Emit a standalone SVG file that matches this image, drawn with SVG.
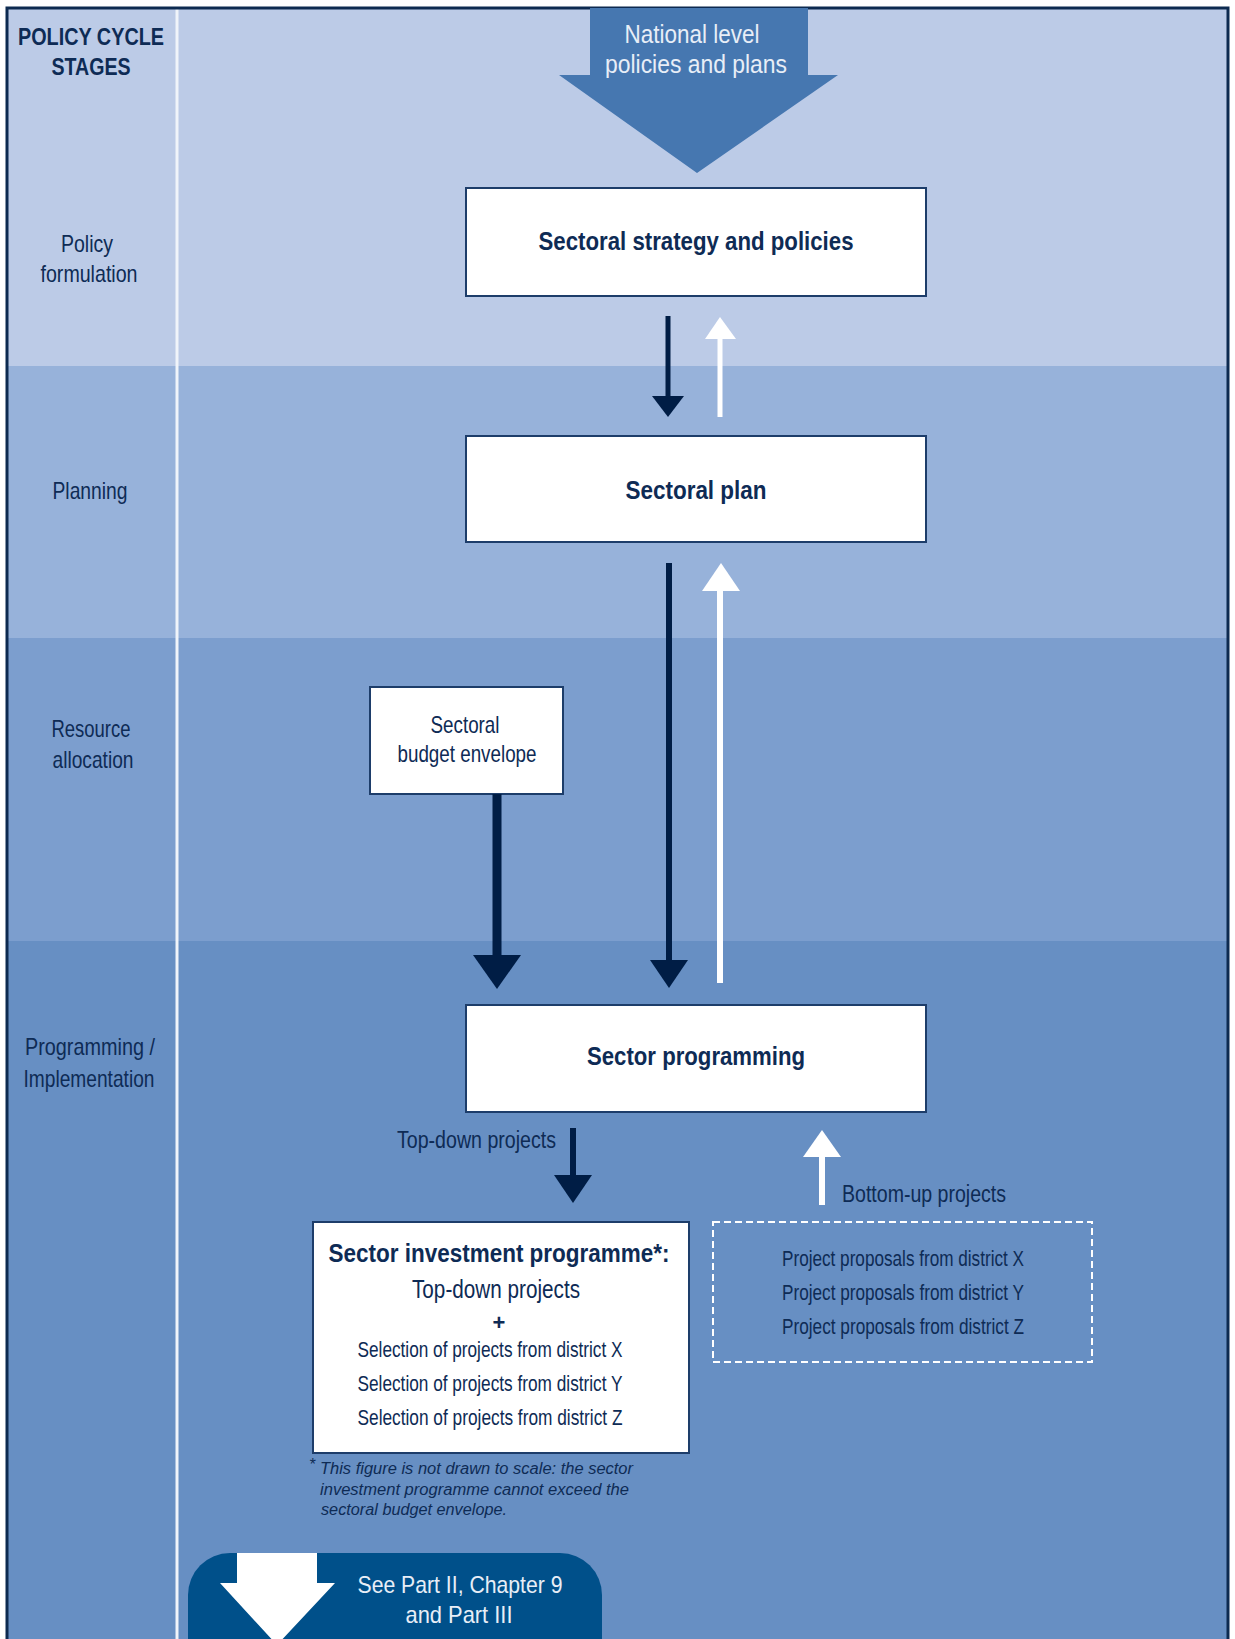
<svg xmlns="http://www.w3.org/2000/svg" width="1235" height="1639" viewBox="0 0 1235 1639">
<style>
text{font-family:"Liberation Sans",Arial,sans-serif;fill:#0E2B55;text-anchor:middle}
.b{font-weight:bold}
.lt{fill:#E8EEF7}
.it{font-style:italic;font-size:16px;text-anchor:start}
.box{fill:#fff;stroke:#1D3D6A;stroke-width:2}
.dk{fill:#001D45}
.wh{fill:#fff}
.sdk{stroke:#001D45;fill:none}
.swh{stroke:#fff;fill:none}
</style>
<rect width="1235" height="1639" fill="#fff"/>
<g id="bands">
<rect x="7" y="8" width="1221" height="358" fill="#BCCBE7"/>
<rect x="7" y="366" width="1221" height="272" fill="#97B2DA"/>
<rect x="7" y="638" width="1221" height="303" fill="#7C9ECE"/>
<rect x="7" y="941" width="1221" height="698" fill="#678FC3"/>
<rect x="175.5" y="8" width="3" height="1631" fill="#F0F4FA"/>
<path d="M7,1639 V8 H1228 V1639" fill="none" stroke="#0D2A50" stroke-width="3"/>
</g>
<g id="stages">
<text class="b" x="91" y="45" font-size="24" textLength="146" lengthAdjust="spacingAndGlyphs">POLICY CYCLE</text>
<text class="b" x="91" y="75" font-size="24" textLength="79" lengthAdjust="spacingAndGlyphs">STAGES</text>
<text x="87" y="252" font-size="24" textLength="52" lengthAdjust="spacingAndGlyphs">Policy</text>
<text x="89" y="282" font-size="24" textLength="97" lengthAdjust="spacingAndGlyphs">formulation</text>
<text x="90" y="499" font-size="24" textLength="75" lengthAdjust="spacingAndGlyphs">Planning</text>
<text x="91" y="737" font-size="24" textLength="79" lengthAdjust="spacingAndGlyphs">Resource</text>
<text x="93" y="768" font-size="24" textLength="81" lengthAdjust="spacingAndGlyphs">allocation</text>
<text x="90" y="1055" font-size="24" textLength="130" lengthAdjust="spacingAndGlyphs">Programming /</text>
<text x="89" y="1087" font-size="24" textLength="131" lengthAdjust="spacingAndGlyphs">Implementation</text>
</g>
<g id="national">
<polygon points="590,8 808,8 808,75 838,75 697,173 559,75 590,75" fill="#4677B0"/>
<text class="lt" x="692" y="43" font-size="25" textLength="135" lengthAdjust="spacingAndGlyphs">National level</text>
<text class="lt" x="696" y="73" font-size="25" textLength="182" lengthAdjust="spacingAndGlyphs">policies and plans</text>
</g>
<g id="strategy">
<rect class="box" x="466" y="188" width="460" height="108"/>
<text class="b" x="696" y="250" font-size="25" textLength="315" lengthAdjust="spacingAndGlyphs">Sectoral strategy and policies</text>
</g>
<g id="plan">
<rect class="box" x="466" y="436" width="460" height="106"/>
<text class="b" x="696" y="499" font-size="25" textLength="141" lengthAdjust="spacingAndGlyphs">Sectoral plan</text>
</g>
<g id="budget">
<rect class="box" x="370" y="687" width="193" height="107"/>
<text x="465" y="733" font-size="24" textLength="69" lengthAdjust="spacingAndGlyphs">Sectoral</text>
<text x="467" y="762" font-size="24" textLength="139" lengthAdjust="spacingAndGlyphs">budget envelope</text>
</g>
<g id="programming">
<rect class="box" x="466" y="1005" width="460" height="107"/>
<text class="b" x="696" y="1065" font-size="25" textLength="218" lengthAdjust="spacingAndGlyphs">Sector programming</text>
</g>
<g id="sip">
<rect class="box" x="313" y="1222" width="376" height="231"/>
<text class="b" x="499" y="1262" font-size="25" textLength="341" lengthAdjust="spacingAndGlyphs">Sector investment programme*:</text>
<text x="496" y="1298" font-size="26" textLength="168" lengthAdjust="spacingAndGlyphs">Top-down projects</text>
<text class="b" x="499" y="1330" font-size="22">+</text>
<text x="490" y="1357" font-size="22" textLength="265" lengthAdjust="spacingAndGlyphs">Selection of projects from district X</text>
<text x="490" y="1391" font-size="22" textLength="265" lengthAdjust="spacingAndGlyphs">Selection of projects from district Y</text>
<text x="490" y="1425" font-size="22" textLength="265" lengthAdjust="spacingAndGlyphs">Selection of projects from district Z</text>
</g>
<g id="proposals">
<rect x="713" y="1222" width="379" height="140" fill="none" stroke="#fff" stroke-width="2" stroke-dasharray="7,4"/>
<text x="903" y="1266" font-size="22" textLength="242" lengthAdjust="spacingAndGlyphs">Project proposals from district X</text>
<text x="903" y="1300" font-size="22" textLength="242" lengthAdjust="spacingAndGlyphs">Project proposals from district Y</text>
<text x="903" y="1334" font-size="22" textLength="242" lengthAdjust="spacingAndGlyphs">Project proposals from district Z</text>
</g>
<g id="footnote">
<text class="it" x="309" y="1470" font-size="11">*</text>
<text class="it" x="320" y="1474" textLength="313" lengthAdjust="spacingAndGlyphs">This figure is not drawn to scale: the sector</text>
<text class="it" x="320" y="1495" textLength="309" lengthAdjust="spacingAndGlyphs">investment programme cannot exceed the</text>
<text class="it" x="321" y="1515" textLength="186" lengthAdjust="spacingAndGlyphs">sectoral budget envelope.</text>
</g>
<g id="see-part">
<path d="M188,1645 V1595 A42,42 0 0 1 230,1553 H560 A42,42 0 0 1 602,1595 V1645 Z" fill="#00508A"/>
<polygon points="237,1553 317,1553 317,1583 335,1583 277,1645 220,1583 237,1583" fill="#fff"/>
<text class="lt" x="460" y="1593" font-size="24" textLength="205" lengthAdjust="spacingAndGlyphs">See Part II, Chapter 9</text>
<text class="lt" x="459" y="1623" font-size="24" textLength="107" lengthAdjust="spacingAndGlyphs">and Part III</text>
</g>
<g id="connectors">
<line class="sdk" x1="668" y1="316" x2="668" y2="400" stroke-width="5"/>
<polygon class="dk" points="652,396 684,396 668,417"/>
<line class="swh" x1="720" y1="417" x2="720" y2="336" stroke-width="5"/>
<polygon class="wh" points="705,339 736,339 720,317"/>
<line class="sdk" x1="669" y1="563" x2="669" y2="963" stroke-width="6"/>
<polygon class="dk" points="650,960 688,960 669,988"/>
<line class="swh" x1="720" y1="983" x2="720" y2="588" stroke-width="6"/>
<polygon class="wh" points="702,591 740,591 721,563"/>
<line class="sdk" x1="497" y1="794" x2="497" y2="958" stroke-width="9"/>
<polygon class="dk" points="473,955 521,955 497,989"/>
<text x="556" y="1148" font-size="23" text-anchor="end" style="text-anchor:end" textLength="159" lengthAdjust="spacingAndGlyphs">Top-down projects</text>
<line class="sdk" x1="573" y1="1128" x2="573" y2="1178" stroke-width="6"/>
<polygon class="dk" points="554,1175 592,1175 573,1203"/>
<line class="swh" x1="822" y1="1205" x2="822" y2="1154" stroke-width="6"/>
<polygon class="wh" points="803,1157 841,1157 822,1130"/>
<text x="842" y="1202" font-size="23" style="text-anchor:start" textLength="164" lengthAdjust="spacingAndGlyphs">Bottom-up projects</text>
</g>
</svg>
